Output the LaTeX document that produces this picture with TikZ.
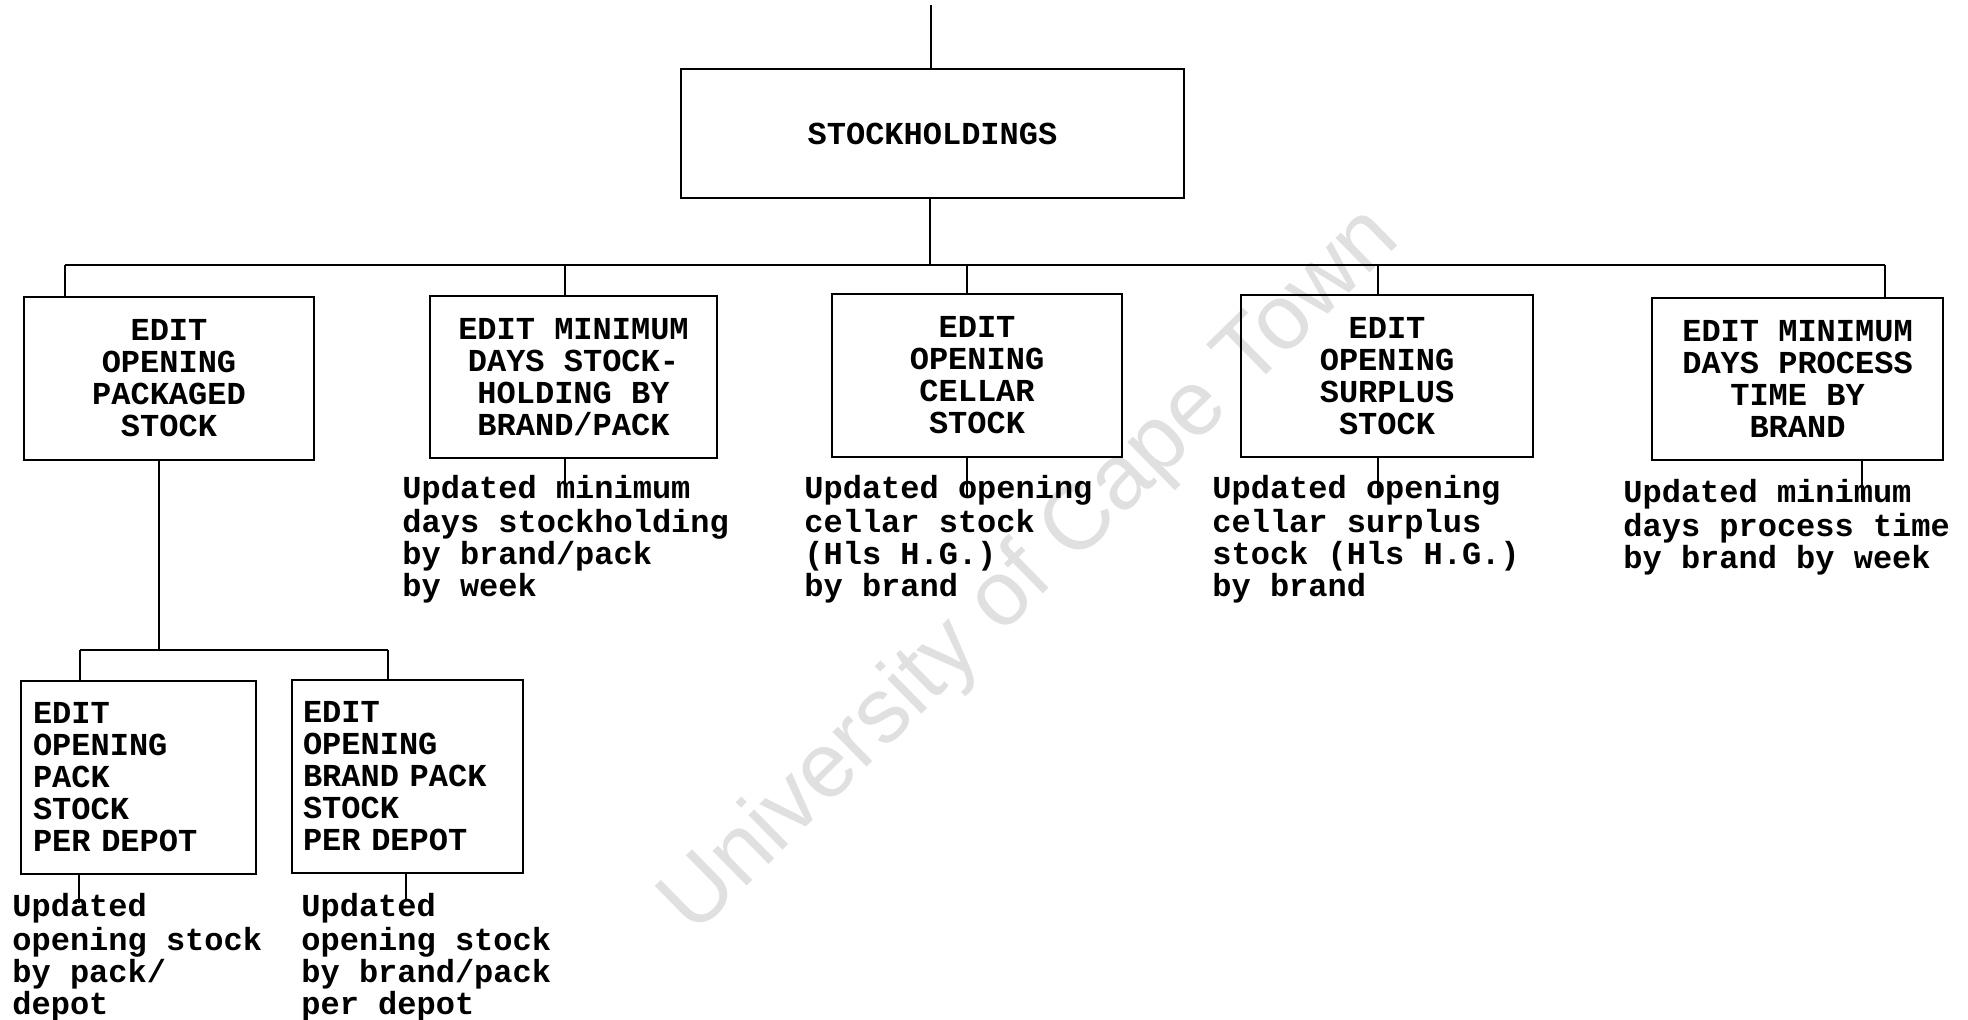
\documentclass[tikz,border=0pt]{standalone}
\usepackage{fontspec}
\setmonofont{Liberation Mono}
\newfontfamily\markfont{Liberation Sans}
\begin{document}
\begin{tikzpicture}[x=0.5pt,y=-0.5pt,
  every node/.style={font=\ttfamily\bfseries\fontsize{16pt}{16pt}\selectfont\frenchspacing, inner sep=0pt},
  box/.style={draw, line width=1.3pt, align=center},
  subbox/.style={draw, line width=1.3pt, align=left},
  note/.style={anchor=north west, align=left},
  link/.style={line width=0.9pt},
  bus/.style={line width=1.3pt}]
\useasboundingbox (0,0) rectangle (1968,1020);
\fill[white] (0,0) rectangle (1968,1020);

% background stamp
\node[font=\markfont\fontsize{46pt}{46pt}\selectfont, text=black!12, rotate=44.5] (stamp) at (1032,572) {University of Cape Town};

% root
\node[box, minimum width=251.5pt, minimum height=64.5pt] (root) at (932.5,133.5) {STOCKHOLDINGS};

% second level
\node[box, minimum width=145pt,   minimum height=81.5pt] (B1) at (169,378.5)  {EDIT\\OPENING\\PACKAGED\\STOCK};
\node[box, minimum width=143.5pt, minimum height=81pt]   (B2) at (573.5,377)  {EDIT MINIMUM\\DAYS STOCK-\\HOLDING BY\\BRAND/PACK};
\node[box, minimum width=145pt,   minimum height=81.5pt] (B3) at (977,375.5)  {EDIT\\OPENING\\CELLAR\\STOCK};
\node[box, minimum width=146pt,   minimum height=81pt]   (B4) at (1387,376)   {EDIT\\OPENING\\SURPLUS\\STOCK};
\node[box, minimum width=145.5pt, minimum height=81pt]   (B5) at (1797.5,379) {EDIT MINIMUM\\DAYS PROCESS\\TIME BY\\BRAND};

% third level
\node[subbox, inner xsep=6pt, text width=105.5pt, minimum height=96.5pt] (sa) at (138.5,777.5) {EDIT\\OPENING\\PACK\\STOCK\\PER DEPOT};
\node[subbox, inner xsep=5.5pt, text width=104.5pt, minimum height=96.5pt] (sb) at (407.5,776.5) {EDIT\\OPENING\\BRAND PACK\\STOCK\\PER DEPOT};

% outputs
\node[note] (o2) at (402,474.6)  {\strut Updated minimum\\days stockholding\\by brand/pack\\by week};
\node[note] (o3) at (804,474.6)  {\strut Updated opening\\cellar stock\\(Hls H.G.)\\by brand};
\node[note] (o4) at (1212,474.6) {\strut Updated opening\\cellar surplus\\stock (Hls H.G.)\\by brand};
\node[note] (o5) at (1623,478.6) {\strut Updated minimum\\days process time\\by brand by week};
\node[note] (oa) at (12,892.6)   {\strut Updated\\opening stock\\by pack/\\depot};
\node[note] (ob) at (301,892.6)  {\strut Updated\\opening stock\\by brand/pack\\per depot};

% connectors: root
\coordinate (top) at (931,5);
\draw[link] (top) -- (top |- root.north);
\coordinate (hub) at (930,265);
\draw[link] (hub |- root.south) -- (hub);

% main bus
\coordinate (j1) at (65,265);
\coordinate (j2) at (565,265);
\coordinate (j3) at (967,265);
\coordinate (j4) at (1378,265);
\coordinate (j5) at (1885,265);
\draw[bus] (j1) -- (j5);
\foreach \i in {1,...,5} \draw[link] (j\i) -- (j\i |- B\i.north);

% output ticks
\coordinate (e2) at (565,497);
\coordinate (e3) at (967,497);
\coordinate (e4) at (1378,497);
\coordinate (e5) at (1862,500);
\foreach \i in {2,...,5} \draw[link] (e\i |- B\i.south) -- (e\i);

% sub bus
\coordinate (k) at (159,650);
\draw[link] (k |- B1.south) -- (k);
\coordinate (ka) at (80,650);
\coordinate (kb) at (388,650);
\draw[bus] (ka) -- (kb);
\draw[link] (ka) -- (ka |- sa.north);
\draw[link] (kb) -- (kb |- sb.north);

\coordinate (ea) at (79,903);
\coordinate (eb) at (406,900);
\draw[link] (ea |- sa.south) -- (ea);
\draw[link] (eb |- sb.south) -- (eb);
\end{tikzpicture}
\end{document}
